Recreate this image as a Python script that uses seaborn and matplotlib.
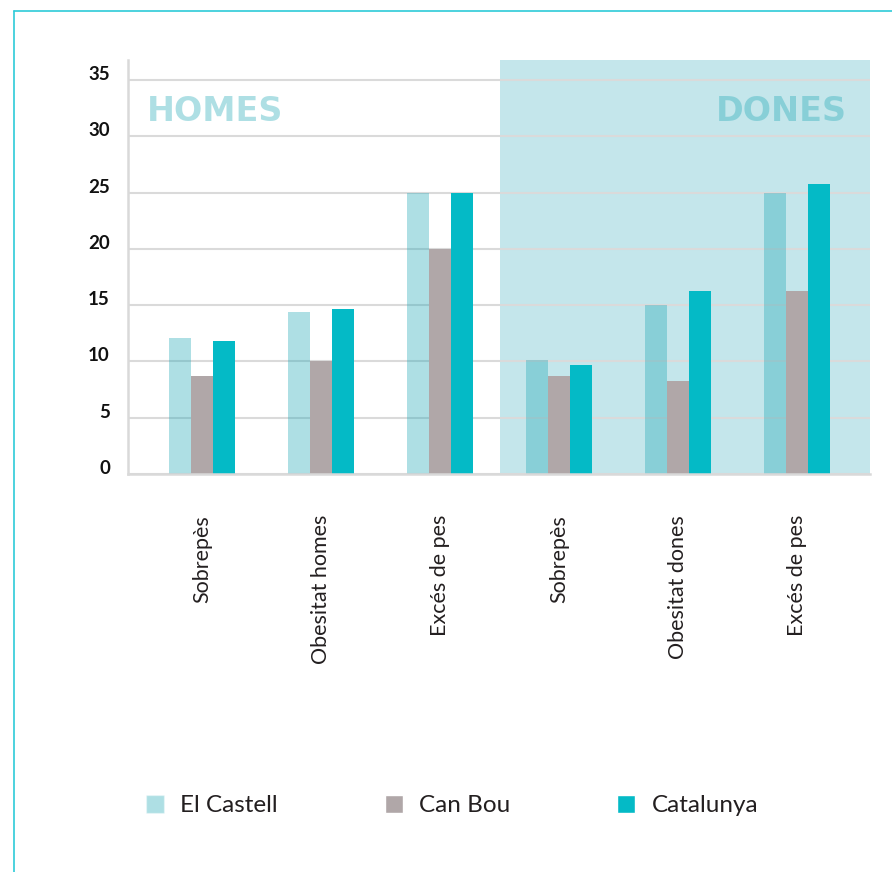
import numpy as np
import pandas as pd
import matplotlib.pyplot as plt
import seaborn as sns
from matplotlib.patches import Patch
from matplotlib.lines import Line2D

# === data ===
groups = ["HOMES", "HOMES", "HOMES", "DONES", "DONES", "DONES"]
indicators = ["Sobrepès", "Obesitat homes", "Excés de pes",
              "Sobrepès", "Obesitat dones", "Excés de pes"]
series = ["El Castell", "Can Bou", "Catalunya"]
el_castell = [12.1, 14.4, 25.0, 10.1, 15.0, 25.0]
can_bou = [8.7, 10.0, 20.0, 8.7, 8.3, 16.3]
catalunya = [11.8, 14.7, 25.0, 9.7, 16.25, 25.75]
yticks = [0, 5, 10, 15, 20, 25, 30, 35]

keys = [f"{g}|{i}" for g, i in zip(groups, indicators)]
df = pd.DataFrame({
    "key": keys * 3,
    "serie": np.repeat(series, len(keys)),
    "valor": el_castell + can_bou + catalunya,
})

ec_color = (32 / 255, 168 / 255, 182 / 255)
ec_alpha = 0.36
palette = {"El Castell": ec_color, "Can Bou": "#b0a7a8", "Catalunya": "#04bac6"}

sns.set_style("white")
plt.rcParams["font.family"] = ["Lato", "DejaVu Sans"]

fig = plt.figure(figsize=(8.92, 8.72), dpi=100)
ax = fig.add_axes([0.1435, 0.4564, 0.8318, 0.4748])

sns.barplot(data=df, x="key", y="valor", hue="serie", order=keys,
            hue_order=series, palette=palette, width=0.5625,
            saturation=1, legend=False, linewidth=0, ax=ax)

# El Castell bars are see-through
for bar in ax.containers[0]:
    bar.set_alpha(ec_alpha)

ax.set_xlim(-0.622, 5.613)
ax.set_ylim(0, 36.78)

# shaded area for women
ax.axvspan(2.5, 5.613, color="#c4e6eb", zorder=0.2, lw=0)
ax.set_axisbelow(True)
ax.yaxis.grid(True, color="#dadada", lw=1.5)
ax.xaxis.grid(False)

ax.set_yticks(yticks)
ax.set_yticklabels([str(t) for t in yticks], fontsize=13.5, fontweight="bold",
                   color="#111111", va="baseline")
ax.set_xticks(range(len(keys)))
ax.set_xticklabels(indicators, rotation=90, fontsize=15.5, color="#231f20")
ax.tick_params(axis="x", length=0, pad=29.5)
ax.tick_params(axis="y", length=0, pad=13)
ax.set_xlabel("")
ax.set_ylabel("")

for s in ["top", "right"]:
    ax.spines[s].set_visible(False)
for s in ["left", "bottom"]:
    ax.spines[s].set_color("#d9d9d9")
    ax.spines[s].set_linewidth(1.8)

ax.text(-0.462, 31.36, "HOMES", fontsize=24, fontweight="bold",
        family="DejaVu Sans", color=ec_color, alpha=ec_alpha,
        ha="left", va="baseline", zorder=0.6)
ax.text(5.42, 31.36, "DONES", fontsize=24, fontweight="bold",
        family="DejaVu Sans", color=ec_color, alpha=ec_alpha,
        ha="right", va="baseline", zorder=0.6)

handles = [Patch(facecolor=ec_color, alpha=ec_alpha),
           Patch(facecolor=palette["Can Bou"]),
           Patch(facecolor=palette["Catalunya"])]
fig.legend(handles, series, loc="center left", bbox_to_anchor=(0.139, 0.076),
           ncol=3, frameon=False, fontsize=17.5, handlelength=0.75,
           handleheight=0.75, handletextpad=0.66, columnspacing=4.4,
           labelcolor="#231f20")

# frame lines
bc = "#2dcbd8"
fig.add_artist(Line2D([14 / 892, 14 / 892], [0, 1 - 11 / 872], color=bc, lw=1.2))
fig.add_artist(Line2D([14 / 892, 1], [1 - 11 / 872, 1 - 11 / 872], color=bc, lw=1.2))

fig.savefig("out.png", dpi=100)
